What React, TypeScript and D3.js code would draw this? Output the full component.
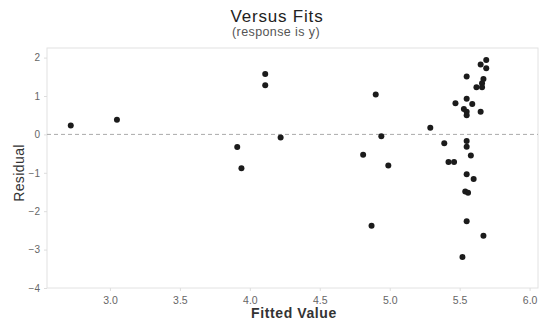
import { useEffect, useRef } from "react";
import * as d3 from "d3";

// fitted values and residuals
const fits = [
  2.72, 3.05, 4.11, 4.11, 3.91, 3.94, 4.22, 4.9, 4.94, 4.81, 4.99, 4.87,
  5.29, 5.69, 5.65, 5.69, 5.55, 5.67, 5.66, 5.62, 5.66, 5.55, 5.47, 5.59,
  5.53, 5.55, 5.55, 5.65, 5.39, 5.55, 5.55, 5.58, 5.42, 5.46, 5.55, 5.6,
  5.54, 5.56, 5.55, 5.67, 5.52,
];
const residuals = [
  0.23, 0.38, 1.57, 1.28, -0.33, -0.88, -0.08, 1.04, -0.05, -0.53, -0.81,
  -2.38, 0.17, 1.94, 1.82, 1.72, 1.51, 1.44, 1.33, 1.23, 1.23, 0.93, 0.81,
  0.79, 0.66, 0.59, 0.5, 0.59, -0.23, -0.17, -0.32, -0.55, -0.72, -0.72,
  -1.04, -1.16, -1.49, -1.52, -2.26, -2.64, -3.19,
];
const xTicks = [3.0, 3.5, 4.0, 4.5, 5.0, 5.5, 6.0];
const yTicks = [2, 1, 0, -1, -2, -3, -4];

const FONT = "Liberation Sans, Arial, sans-serif";

const App = () => {
  const svgRef = useRef<SVGSVGElement>(null);

  useEffect(() => {
    const width = 541;
    const height = 336;
    const plot = { left: 47, right: 538, top: 48, bottom: 288 };

    const svg = d3.select(svgRef.current);
    svg.selectAll("*").remove();

    svg.append("rect").attr("width", width).attr("height", height).attr("fill", "#fff");

    const x = d3.scaleLinear().domain([2.55, 6.06]).range([plot.left, plot.right]);
    const y = d3.scaleLinear().domain([-4.0, 2.25]).range([plot.bottom, plot.top]);

    // frame
    svg
      .append("rect")
      .attr("x", plot.left)
      .attr("y", plot.top)
      .attr("width", plot.right - plot.left)
      .attr("height", plot.bottom - plot.top)
      .attr("fill", "none")
      .attr("stroke", "#e2e2e2");

    // y axis
    const yAxis = svg
      .append("g")
      .attr("transform", `translate(${plot.left}, 0)`)
      .call(d3.axisLeft(y).tickValues(yTicks).tickFormat(d3.format("d")).tickSize(3).tickPadding(4));
    yAxis.select(".domain").remove();
    yAxis.selectAll("line").attr("stroke", "#ddd");
    yAxis.selectAll("text").attr("fill", "#666").attr("font-size", 10).attr("font-family", FONT);

    // x axis
    const xAxis = svg
      .append("g")
      .attr("transform", `translate(0, ${plot.bottom})`)
      .call(d3.axisBottom(x).tickValues(xTicks).tickFormat(d3.format(".1f")).tickSize(3).tickPadding(6));
    xAxis.select(".domain").remove();
    xAxis.selectAll("line").attr("stroke", "#ddd");
    xAxis.selectAll("text").attr("fill", "#666").attr("font-size", 10.5).attr("font-family", FONT);

    // zero reference line
    svg
      .append("line")
      .attr("x1", plot.left)
      .attr("x2", plot.right)
      .attr("y1", y(0))
      .attr("y2", y(0))
      .attr("stroke", "#aaa")
      .attr("stroke-dasharray", "4,3");

    // points
    svg
      .append("g")
      .selectAll("circle")
      .data(fits.map((f, i) => [f, residuals[i]]))
      .join("circle")
      .attr("cx", (d) => x(d[0]))
      .attr("cy", (d) => y(d[1]))
      .attr("r", 3)
      .attr("fill", "#1b1b1b");

    // titles
    svg
      .append("text")
      .attr("x", 277)
      .attr("y", 22)
      .attr("text-anchor", "middle")
      .attr("font-size", 17)
      .attr("letter-spacing", 0.8)
      .attr("font-family", FONT)
      .attr("fill", "#222")
      .text("Versus Fits");
    svg
      .append("text")
      .attr("x", 276)
      .attr("y", 36)
      .attr("text-anchor", "middle")
      .attr("font-size", 12.5)
      .attr("letter-spacing", 0.4)
      .attr("font-family", FONT)
      .attr("fill", "#555")
      .text("(response is y)");

    svg
      .append("text")
      .attr("x", 294)
      .attr("y", 318)
      .attr("text-anchor", "middle")
      .attr("font-size", 14)
      .attr("letter-spacing", 0.6)
      .attr("font-weight", "bold")
      .attr("font-family", FONT)
      .attr("fill", "#333")
      .text("Fitted Value");
    svg
      .append("text")
      .attr("transform", "translate(24, 173) rotate(-90)")
      .attr("text-anchor", "middle")
      .attr("font-size", 14)
      .attr("letter-spacing", 0.4)
      .attr("font-family", FONT)
      .attr("fill", "#333")
      .text("Residual");
  }, []);

  return (
    <svg
      ref={svgRef}
      width={541}
      height={336}
      style={{ position: "absolute", left: 0, top: 0, display: "block" }}
    />
  );
};

export default App;
